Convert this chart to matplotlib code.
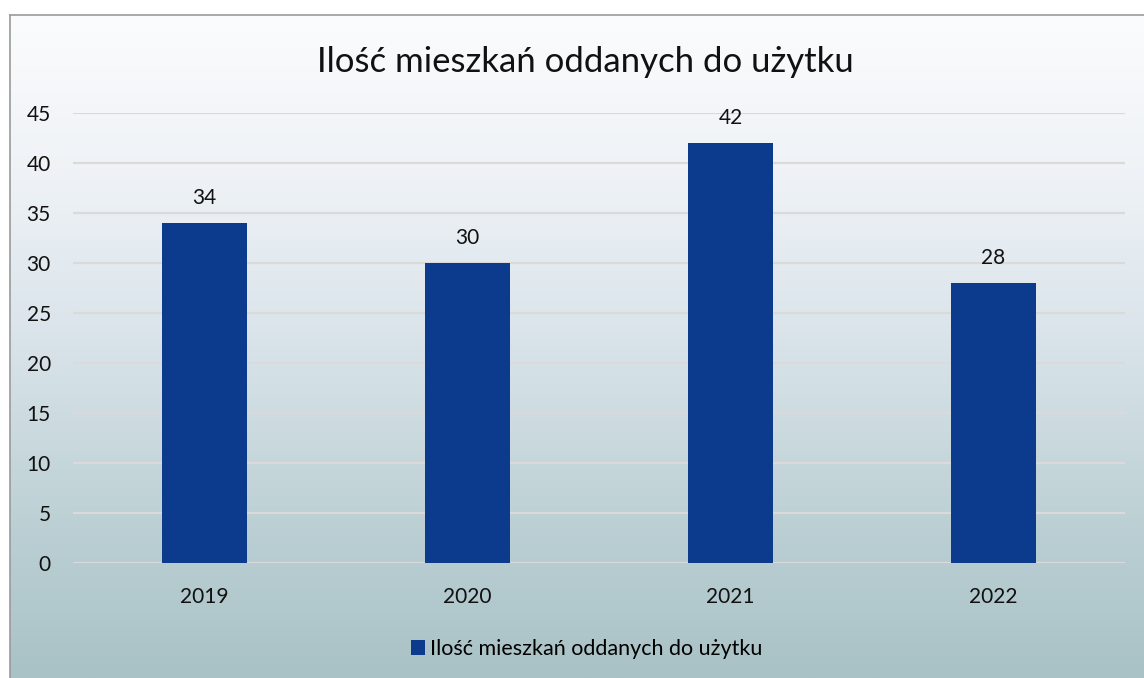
import matplotlib
matplotlib.use("Agg")
import matplotlib.pyplot as plt
import numpy as np
from matplotlib.colors import LinearSegmentedColormap
from matplotlib.patches import Patch

years = ["2019", "2020", "2021", "2022"]
values = [34, 30, 42, 28]
series_name = "Ilość mieszkań oddanych do użytku"
title = "Ilość mieszkań oddanych do użytku"
yticks = [0, 5, 10, 15, 20, 25, 30, 35, 40, 45]

plt.rcParams['font.family'] = ['Lato', 'DejaVu Sans']

W, H = 1144, 678
fig = plt.figure(figsize=(W / 100, H / 100), dpi=100)
fig.patch.set_facecolor("white")

# gradient background frame
bg = fig.add_axes([10 / W, 0, 1 - 10 / W, 1 - 15 / H], zorder=0)
cmap = LinearSegmentedColormap.from_list(
    "bgc", [(0.0, "#fbfcfd"), (0.25, "#eef2f6"), (0.5, "#d8e3e9"), (0.8, "#b9ced2"), (1.0, "#a9c2c6")])
grad = np.linspace(0, 1, 256).reshape(-1, 1)
bg.imshow(grad, aspect="auto", cmap=cmap, extent=[0, 1, 0, 1], origin="upper")
bg.set_xlim(0, 1); bg.set_ylim(0, 1)
bg.set_xticks([]); bg.set_yticks([])
for s in ["left", "top"]:
    bg.spines[s].set_color("#9a9a9a"); bg.spines[s].set_linewidth(1.2)
for s in ["right", "bottom"]:
    bg.spines[s].set_visible(False)

# plot area: x 73..1125, y(0)=563, y(45)=113
x0, x1 = 73, 1125
y_top, y_bot = 113, 563
ax = fig.add_axes([x0 / W, 1 - y_bot / H, (x1 - x0) / W, (y_bot - y_top) / H], zorder=1)
ax.patch.set_alpha(0)
pos = np.arange(len(years))
bars = ax.bar(pos, values, width=0.32, color="#0c3a8c", zorder=3, label=series_name)
ax.set_xlim(-0.5, len(years) - 0.5)
ax.set_ylim(0, 45)
ax.set_yticks(yticks)
ax.set_yticklabels([str(t) for t in yticks], fontsize=15, color="#111111")
ax.set_xticks(pos)
ax.set_xticklabels(years, fontsize=15, color="#111111")
ax.tick_params(axis="both", length=0)
ax.tick_params(axis="y", pad=16)
ax.tick_params(axis="x", pad=17)
ax.yaxis.grid(True, color="#dadada", linewidth=1.6, zorder=1)
ax.set_axisbelow(True)
for s in ax.spines.values():
    s.set_visible(False)

for b, v in zip(bars, values):
    ax.annotate(str(v), (b.get_x() + b.get_width() / 2, v), xytext=(0, 18),
                textcoords="offset points", ha="center", va="center",
                fontsize=15, color="#111111")

fig.text(585 / W, 1 - 62 / H, title, ha="center", va="center", fontsize=25, color="#111111")

handles = [Patch(facecolor="#0c3a8c", label=series_name)]
fig.legend(handles=handles, loc="center", bbox_to_anchor=(587 / W, 1 - 649 / H),
           frameon=False, fontsize=15.5, handlelength=0.65, handleheight=0.65,
           handletextpad=0.25)

fig.savefig("out.png", dpi=100)
